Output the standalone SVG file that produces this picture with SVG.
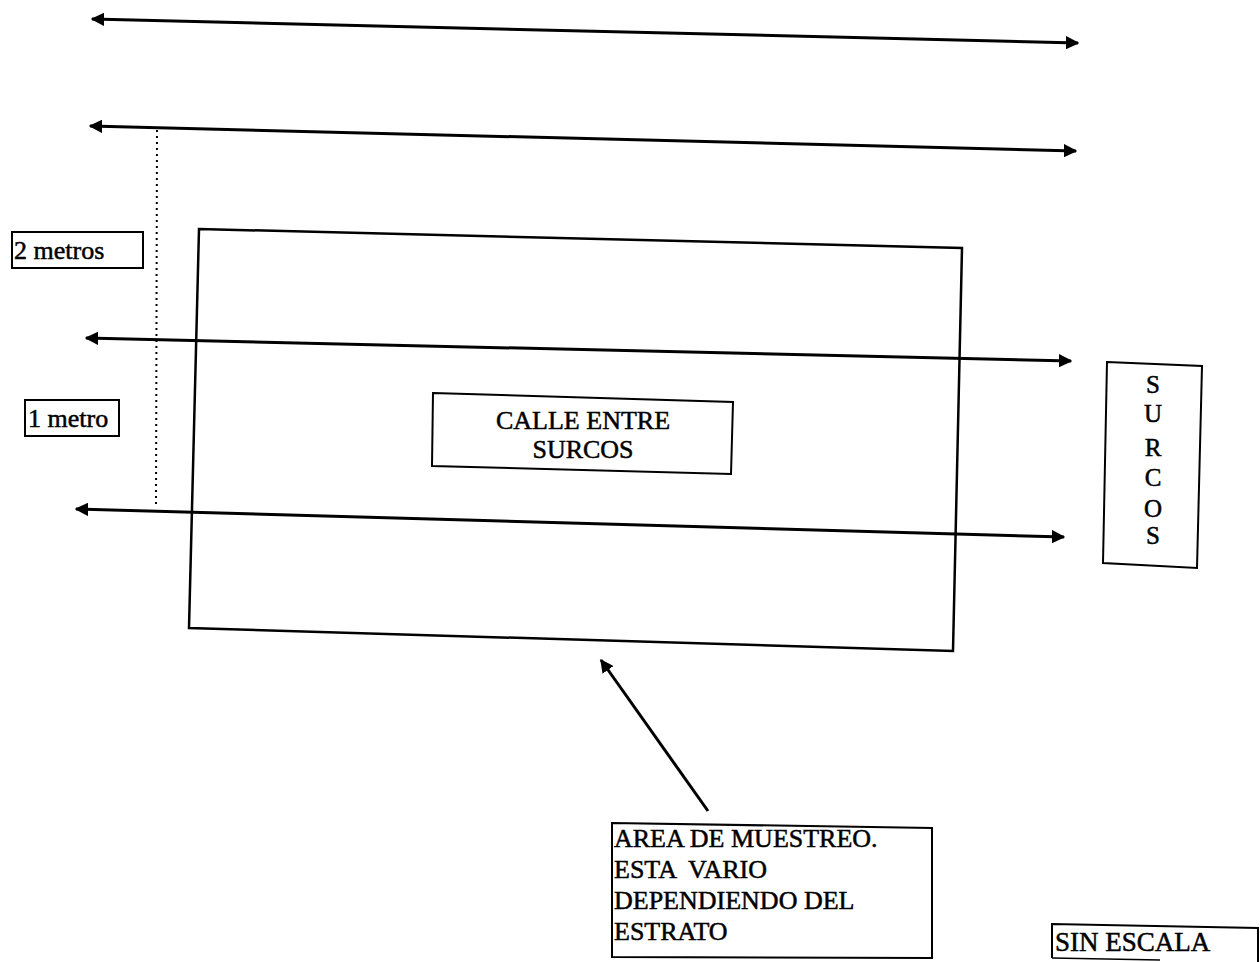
<svg xmlns="http://www.w3.org/2000/svg" width="1260" height="962" viewBox="0 0 1260 962">
<style>
.ln{stroke:#000;stroke-width:3;fill:none}
.bx{stroke:#000;stroke-width:2;fill:#fff}
.big{stroke:#000;stroke-width:2.5;fill:none}
.t{font-family:"Liberation Serif","Times New Roman",serif;fill:#000;stroke:#000;stroke-width:0.5;white-space:pre}
</style>
<defs>
<marker id="ah" viewBox="0 0 10 10" refX="9" refY="5" markerWidth="4.5" markerHeight="4.5" orient="auto-start-reverse" markerUnits="strokeWidth">
<path d="M0,0 L10,5 L0,10 z" fill="#000"/>
</marker>
</defs>
<rect width="1260" height="962" fill="#fff"/>
<g id="area">
<polygon class="big" points="199,229 962,248 953,651 189,628"/>
</g>
<g id="connectors">
<line class="ln" x1="92" y1="19" x2="1078" y2="43" marker-start="url(#ah)" marker-end="url(#ah)"/>
<line class="ln" x1="90" y1="126" x2="1076" y2="151" marker-start="url(#ah)" marker-end="url(#ah)"/>
<line class="ln" x1="86" y1="338" x2="1071" y2="361" marker-start="url(#ah)" marker-end="url(#ah)"/>
<line class="ln" x1="76" y1="509" x2="1064" y2="537" marker-start="url(#ah)" marker-end="url(#ah)"/>
<line x1="157" y1="130" x2="156" y2="508" stroke="#000" stroke-width="2" stroke-dasharray="2,4"/>
<line class="ln" x1="708" y1="811" x2="601" y2="660" marker-end="url(#ah)"/>
</g>
<g id="dos-metros">
<rect class="bx" x="12" y="232" width="131" height="36"/>
<text class="t" x="14" y="259" font-size="26">2 metros</text>
</g>
<g id="un-metro">
<rect class="bx" x="25" y="400" width="94" height="36"/>
<text class="t" x="28" y="427" font-size="26">1 metro</text>
</g>
<g id="calle">
<polygon class="bx" points="433,393 733,402 731,474 432,466"/>
<text class="t" font-size="26" text-anchor="middle"><tspan x="583" y="429">CALLE ENTRE</tspan><tspan x="583" y="458">SURCOS</tspan></text>
</g>
<g id="surcos">
<polygon class="bx" points="1107,362 1202,366 1197,568 1103,563"/>
<text class="t" font-size="25" text-anchor="middle"><tspan x="1153" y="393">S</tspan><tspan x="1153" y="422">U</tspan><tspan x="1153" y="456">R</tspan><tspan x="1153" y="486">C</tspan><tspan x="1153" y="517">O</tspan><tspan x="1153" y="544">S</tspan></text>
</g>
<g id="muestreo">
<polygon class="bx" points="612,823 932,828 932,958 612,957"/>
<text class="t" font-size="26"><tspan x="614" y="847">AREA DE MUESTREO.</tspan><tspan x="614" y="878">ESTA  VARIO</tspan><tspan x="614" y="909">DEPENDIENDO DEL</tspan><tspan x="614" y="940">ESTRATO</tspan></text>
</g>
<g id="escala">
<polyline class="bx" points="1052,958 1052,924 1258,928 1258,962"/>
<line x1="1052" y1="958" x2="1160" y2="960" stroke="#000" stroke-width="1.5"/>
<text class="t" x="1055" y="951" font-size="27">SIN ESCALA</text>
</g>
</svg>
